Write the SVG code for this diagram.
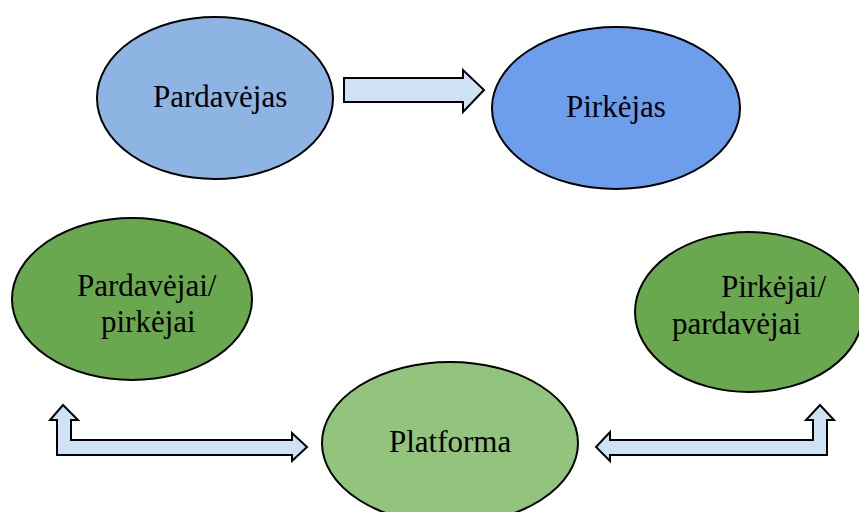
<svg xmlns="http://www.w3.org/2000/svg" width="859" height="512" viewBox="0 0 859 512">
<style>
.n{stroke:#000;stroke-width:2}
.t{font-family:"Liberation Serif","Times New Roman",serif;font-size:31px;fill:#000}
.a{fill:#cfe2f3;stroke:#000;stroke-width:2;stroke-linejoin:miter}
</style>
<rect width="859" height="512" fill="#fff"/>
<g id="connectors">
<path class="a" d="M344,78 H463 V70 L484,90 L463,112 V102 H344 Z"/>
<path class="a" d="M57,455 V420 H50 L63,405 L78,420 H71 V440 H292 V433 L307,447 L292,461 V455 Z"/>
<path class="a" d="M827,455 V420 H834 L820,405 L806,420 H813 V440 H610 V432 L596,447 L610,461 V455 Z"/>
</g>
<g id="pardavejas">
<ellipse class="n" cx="215" cy="98" rx="118" ry="81" fill="#8eb4e3"/>
<text class="t" x="153" y="107">Pardavėjas</text>
</g>
<g id="pirkejas">
<ellipse class="n" cx="616" cy="108" rx="124" ry="81" fill="#6d9eeb"/>
<text class="t" x="566" y="117">Pirkėjas</text>
</g>
<g id="pardavejai-pirkejai">
<ellipse class="n" cx="132" cy="299" rx="120" ry="81" fill="#6aa84f"/>
<text class="t" x="77" y="296">Pardavėjai/</text>
<text class="t" x="101" y="332">pirkėjai</text>
</g>
<g id="pirkejai-pardavejai">
<ellipse class="n" cx="749" cy="312" rx="114" ry="80" fill="#6aa84f"/>
<text class="t" x="721" y="297">Pirkėjai/</text>
<text class="t" x="672" y="334">pardavėjai</text>
</g>
<g id="platforma">
<ellipse class="n" cx="450" cy="443" rx="128" ry="81" fill="#93c47d"/>
<text class="t" x="389" y="452">Platforma</text>
</g>
</svg>
